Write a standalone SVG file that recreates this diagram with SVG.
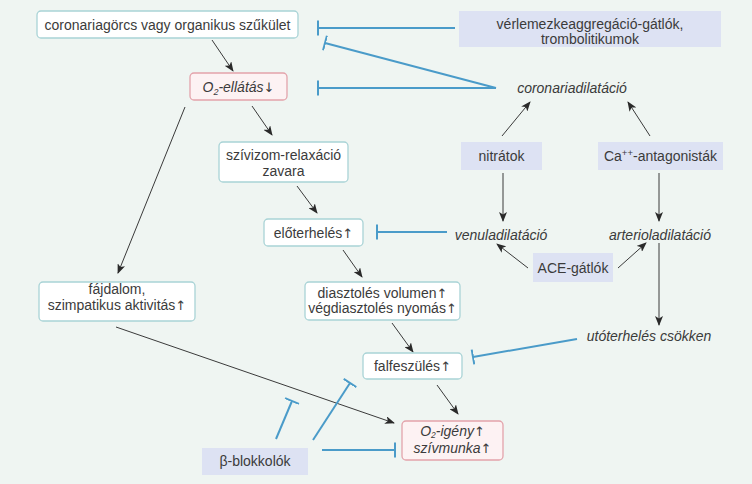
<svg xmlns="http://www.w3.org/2000/svg" width="752" height="484" viewBox="0 0 752 484">
<defs>
<style>
text{font-family:"Liberation Sans",Arial,sans-serif;font-size:14px;fill:#3b3b3b;text-anchor:middle}
.it{font-style:italic}
.a{font-family:"DejaVu Sans",sans-serif;font-style:normal;font-size:13px}
.wb{fill:#ffffff;stroke:#a9d3d6;stroke-width:1.3}
.pb{fill:#fdf2f3;stroke:#e3a3ab;stroke-width:1.3}
.lb{fill:#dde2f3}
.ar{stroke:#3a3a3a;stroke-width:1;fill:none;marker-end:url(#ah)}
.in{stroke:#4a9bc9;stroke-width:2;fill:none;marker-end:url(#tb)}
</style>
<marker id="ah" markerWidth="10" markerHeight="8" refX="9" refY="4" orient="auto" markerUnits="userSpaceOnUse">
<path d="M0,0 L10,4 L0,8 L2.5,4 z" fill="#2a2a2a"/>
</marker>
<marker id="tb" markerWidth="4" markerHeight="18" refX="1" refY="9" orient="auto" markerUnits="userSpaceOnUse">
<path d="M1,1.5 L1,16.5" stroke="#4a9bc9" stroke-width="2"/>
</marker>
</defs>
<rect width="752" height="484" fill="#eff5f2"/>
<g id="connectors">
<line class="ar" x1="212" y1="40" x2="233" y2="71"/>
<line class="ar" x1="252" y1="106" x2="272" y2="135"/>
<line class="ar" x1="185" y1="107" x2="118" y2="273"/>
<line class="ar" x1="297" y1="186" x2="317" y2="213"/>
<line class="ar" x1="343" y1="250" x2="362" y2="277"/>
<line class="ar" x1="392" y1="323" x2="413" y2="352"/>
<line class="ar" x1="437" y1="385" x2="458" y2="414"/>
<line class="ar" x1="116" y1="327" x2="394" y2="423"/>
<line class="ar" x1="502" y1="136" x2="530" y2="102"/>
<line class="ar" x1="650" y1="136" x2="628" y2="102"/>
<line class="ar" x1="503" y1="173" x2="503" y2="221"/>
<line class="ar" x1="659" y1="173" x2="659" y2="221"/>
<line class="ar" x1="528" y1="268" x2="497" y2="244"/>
<line class="ar" x1="618" y1="268" x2="646" y2="243"/>
<line class="ar" x1="659" y1="243" x2="659" y2="325"/>
<line class="in" x1="455" y1="28" x2="318" y2="28"/>
<line class="in" x1="496" y1="88" x2="325" y2="43"/>
<line class="in" x1="496" y1="88" x2="318" y2="88"/>
<line class="in" x1="447" y1="232" x2="377" y2="232"/>
<line class="in" x1="577" y1="339" x2="473" y2="357"/>
<line class="in" x1="276" y1="439" x2="292" y2="401"/>
<line class="in" x1="313" y1="440" x2="350" y2="383"/>
<line class="in" x1="322" y1="450" x2="395" y2="450"/>
</g>
<g id="n-coronariagorcs"><rect class="wb" x="37" y="11" width="261" height="27" rx="4"/><text x="167.5" y="29.5">coronariagörcs vagy organikus szűkület</text></g>
<g id="n-o2ellatas"><rect class="pb" x="190" y="73" width="97" height="27" rx="4"/><text class="it" x="238.5" y="91.5">O<tspan font-size="9" dy="3">2</tspan><tspan dy="-3">-ellátás</tspan><tspan class="a">↓</tspan></text></g>
<g id="n-verlemezke"><rect class="lb" x="459" y="11" width="262" height="36"/><text x="590" y="29">vérlemezkeaggregáció-gátlók,</text><text x="590" y="43.5">trombolitikumok</text></g>
<g id="n-coronariadilatacio"><text class="it" x="572" y="92.5">coronariadilatáció</text></g>
<g id="n-nitratok"><rect class="lb" x="461" y="142" width="81" height="28"/><text x="501.5" y="161">nitrátok</text></g>
<g id="n-ca"><rect class="lb" x="598" y="142" width="125" height="28"/><text x="660.5" y="161">Ca<tspan font-size="9.5" dy="-5">++</tspan><tspan dy="5">-antagonisták</tspan></text></g>
<g id="n-szivizom"><rect class="wb" x="219" y="142" width="129" height="40" rx="4"/><text x="283.5" y="159.5">szívizom-relaxáció</text><text x="283.5" y="175.5">zavara</text></g>
<g id="n-eloterheles"><rect class="wb" x="264" y="219" width="99" height="27" rx="4"/><text x="313.5" y="237.5">előterhelés<tspan class="a">↑</tspan></text></g>
<g id="n-venula"><text class="it" x="501" y="239.5">venuladilatáció</text></g>
<g id="n-arteriola"><text class="it" x="660" y="239.5">arterioladilatáció</text></g>
<g id="n-ace"><rect class="lb" x="533" y="253" width="80" height="29"/><text x="573" y="272.5">ACE-gátlók</text></g>
<g id="n-fajdalom"><rect class="wb" x="39" y="282" width="156" height="39" rx="4"/><text x="117" y="293.5">fájdalom,</text><text x="117" y="309.5">szimpatikus aktivitás<tspan class="a">↑</tspan></text></g>
<g id="n-diasztoles"><rect class="wb" x="305" y="282" width="155" height="38" rx="4"/><text x="382.5" y="297.5">diasztolés volumen<tspan class="a">↑</tspan></text><text x="382.5" y="312.5">végdiasztolés nyomás<tspan class="a">↑</tspan></text></g>
<g id="n-utoterheles"><text class="it" x="649" y="340.5">utóterhelés csökken</text></g>
<g id="n-falfeszules"><rect class="wb" x="363" y="353" width="99" height="26" rx="4"/><text x="412.5" y="370.5">falfeszülés<tspan class="a">↑</tspan></text></g>
<g id="n-o2igeny"><rect class="pb" x="402" y="421" width="101" height="39" rx="4"/><text class="it" x="452.5" y="435.5">O<tspan font-size="8.5" dy="2">2</tspan><tspan dy="-2">-igény</tspan><tspan class="a">↑</tspan></text><text class="it" x="452.5" y="453">szívmunka<tspan class="a">↑</tspan></text></g>
<g id="n-beta"><rect class="lb" x="202" y="448" width="106" height="27"/><text x="255" y="466">β-blokkolók</text></g>
</svg>
